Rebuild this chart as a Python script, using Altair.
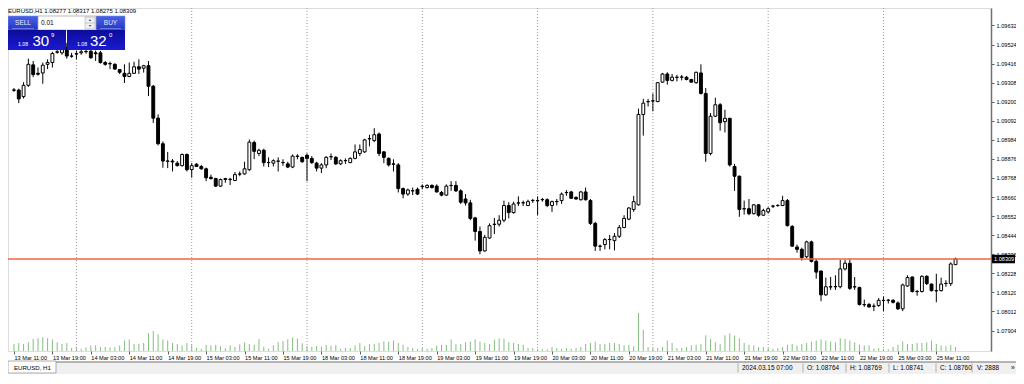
import altair as alt
import pandas as pd

symbol = "EURUSD,H1"
tab_label = "EURUSD, H1"

opens = [
    1.09267, 1.09266, 1.09229, 1.09293, 1.09409, 1.09361, 1.09363, 1.09412, 1.09422, 1.09480,
    1.09477, 1.09510, 1.09459, 1.09472, 1.09477, 1.09483, 1.09486, 1.09477, 1.09477, 1.09422,
    1.09416, 1.09412, 1.09382, 1.09361, 1.09343, 1.09361, 1.09398, 1.09390, 1.09404, 1.09288,
    1.09107, 1.08962, 1.08864, 1.08864, 1.08852, 1.08838, 1.08901, 1.08816, 1.08846, 1.08833,
    1.08820, 1.08772, 1.08765, 1.08722, 1.08764, 1.08759, 1.08754, 1.08791, 1.08791, 1.08815,
    1.08969, 1.08907, 1.08925, 1.08855, 1.08852, 1.08864, 1.08855, 1.08848, 1.08830, 1.08892,
    1.08885, 1.08897, 1.08879, 1.08852, 1.08824, 1.08842, 1.08888, 1.08885, 1.08848, 1.08866,
    1.08855, 1.08879, 1.08907, 1.08916, 1.08990, 1.08980, 1.09017, 1.08916, 1.08879, 1.08848,
    1.08842, 1.08708, 1.08677, 1.08695, 1.08704, 1.08719, 1.08714, 1.08726, 1.08722, 1.08686,
    1.08671, 1.08726, 1.08726, 1.08695, 1.08649, 1.08627, 1.08542, 1.08465, 1.08355, 1.08428,
    1.08506, 1.08506, 1.08529, 1.08612, 1.08572, 1.08627, 1.08627, 1.08612, 1.08640, 1.08640,
    1.08645, 1.08645, 1.08612, 1.08634, 1.08640, 1.08686, 1.08689, 1.08658, 1.08645, 1.08689,
    1.08640, 1.08511, 1.08382, 1.08391, 1.08419, 1.08413, 1.08438, 1.08487, 1.08535, 1.08590,
    1.08616, 1.09128, 1.09201, 1.09205, 1.09201, 1.09311, 1.09357, 1.09321, 1.09339, 1.09339,
    1.09339, 1.09326, 1.09308, 1.09363, 1.09247, 1.08907, 1.09118, 1.09183, 1.09087, 1.09106,
    1.08833, 1.08778, 1.08594, 1.08594, 1.08566, 1.08616, 1.08557, 1.08576, 1.08609, 1.08612,
    1.08612, 1.08640, 1.08493, 1.08377, 1.08364, 1.08322, 1.08406, 1.08296, 1.08241, 1.08106,
    1.08152, 1.08152, 1.08152, 1.08253, 1.08285, 1.08152, 1.08148, 1.08051, 1.08051, 1.08042,
    1.08046, 1.08075, 1.08075, 1.08075, 1.08060, 1.08027, 1.08156, 1.08207, 1.08125, 1.08125,
    1.08211, 1.08167, 1.08130, 1.08130, 1.08170, 1.08170, 1.08277,
]

highs = [
    1.09278, 1.09274, 1.09311, 1.09444, 1.09431, 1.09394, 1.09422, 1.09440, 1.09483, 1.09494,
    1.09532, 1.09532, 1.09477, 1.09488, 1.09499, 1.09505, 1.09505, 1.09490, 1.09488, 1.09431,
    1.09427, 1.09418, 1.09385, 1.09412, 1.09422, 1.09427, 1.09440, 1.09409, 1.09431, 1.09295,
    1.09128, 1.08975, 1.08916, 1.08875, 1.08864, 1.08907, 1.08907, 1.08853, 1.08852, 1.08842,
    1.08827, 1.08787, 1.08769, 1.08765, 1.08769, 1.08769, 1.08802, 1.08805, 1.08860, 1.08986,
    1.08980, 1.08934, 1.08934, 1.08885, 1.08874, 1.08885, 1.08874, 1.08860, 1.08901, 1.08903,
    1.08888, 1.08907, 1.08892, 1.08860, 1.08852, 1.08892, 1.08907, 1.08892, 1.08874, 1.08879,
    1.08885, 1.08958, 1.08958, 1.08990, 1.09013, 1.09050, 1.09026, 1.08921, 1.08885, 1.08874,
    1.08852, 1.08714, 1.08708, 1.08714, 1.08714, 1.08732, 1.08732, 1.08732, 1.08732, 1.08695,
    1.08732, 1.08750, 1.08750, 1.08704, 1.08677, 1.08644, 1.08548, 1.08493, 1.08446, 1.08511,
    1.08542, 1.08557, 1.08640, 1.08631, 1.08634, 1.08664, 1.08640, 1.08645, 1.08649, 1.08664,
    1.08655, 1.08653, 1.08640, 1.08649, 1.08686, 1.08699, 1.08695, 1.08664, 1.08695, 1.08714,
    1.08649, 1.08520, 1.08391, 1.08428, 1.08446, 1.08456, 1.08502, 1.08557, 1.08603, 1.08667,
    1.09161, 1.09216, 1.09216, 1.09247, 1.09311, 1.09363, 1.09367, 1.09357, 1.09352, 1.09352,
    1.09345, 1.09330, 1.09370, 1.09412, 1.09278, 1.09136, 1.09223, 1.09192, 1.09155, 1.09109,
    1.08848, 1.08782, 1.08640, 1.08649, 1.08621, 1.08621, 1.08594, 1.08603, 1.08616, 1.08619,
    1.08667, 1.08649, 1.08502, 1.08391, 1.08373, 1.08413, 1.08413, 1.08308, 1.08244, 1.08204,
    1.08207, 1.08217, 1.08303, 1.08303, 1.08308, 1.08207, 1.08152, 1.08079, 1.08060, 1.08057,
    1.08088, 1.08097, 1.08082, 1.08082, 1.08069, 1.08170, 1.08217, 1.08211, 1.08134, 1.08217,
    1.08217, 1.08170, 1.08226, 1.08204, 1.08189, 1.08290, 1.08317,
]

lows = [
    1.09256, 1.09192, 1.09218, 1.09284, 1.09339, 1.09348, 1.09302, 1.09385, 1.09394, 1.09472,
    1.09466, 1.09444, 1.09449, 1.09440, 1.09466, 1.09472, 1.09444, 1.09431, 1.09416, 1.09404,
    1.09385, 1.09382, 1.09357, 1.09306, 1.09339, 1.09357, 1.09357, 1.09365, 1.09232, 1.09080,
    1.08953, 1.08826, 1.08824, 1.08805, 1.08833, 1.08833, 1.08805, 1.08770, 1.08830, 1.08815,
    1.08750, 1.08759, 1.08717, 1.08717, 1.08741, 1.08728, 1.08750, 1.08778, 1.08787, 1.08809,
    1.08875, 1.08892, 1.08833, 1.08830, 1.08833, 1.08805, 1.08837, 1.08824, 1.08824, 1.08874,
    1.08855, 1.08750, 1.08848, 1.08805, 1.08796, 1.08824, 1.08870, 1.08842, 1.08842, 1.08848,
    1.08852, 1.08874, 1.08892, 1.08910, 1.08947, 1.08971, 1.08892, 1.08852, 1.08833, 1.08805,
    1.08686, 1.08653, 1.08667, 1.08671, 1.08671, 1.08704, 1.08708, 1.08708, 1.08686, 1.08664,
    1.08667, 1.08695, 1.08689, 1.08621, 1.08612, 1.08529, 1.08413, 1.08336, 1.08351, 1.08424,
    1.08450, 1.08493, 1.08517, 1.08539, 1.08566, 1.08609, 1.08609, 1.08609, 1.08627, 1.08557,
    1.08634, 1.08603, 1.08576, 1.08612, 1.08621, 1.08667, 1.08649, 1.08645, 1.08640, 1.08640,
    1.08502, 1.08355, 1.08355, 1.08364, 1.08364, 1.08358, 1.08428, 1.08484, 1.08529, 1.08576,
    1.08612, 1.09008, 1.09173, 1.09146, 1.09197, 1.09308, 1.09297, 1.09315, 1.09315, 1.09321,
    1.09321, 1.09308, 1.09302, 1.09241, 1.08860, 1.08897, 1.09113, 1.09036, 1.09026, 1.08833,
    1.08695, 1.08548, 1.08561, 1.08557, 1.08561, 1.08548, 1.08554, 1.08566, 1.08598, 1.08605,
    1.08609, 1.08493, 1.08377, 1.08345, 1.08300, 1.08314, 1.08290, 1.08198, 1.08070, 1.08101,
    1.08134, 1.08134, 1.08143, 1.08244, 1.08134, 1.08134, 1.08046, 1.08038, 1.08032, 1.08014,
    1.08038, 1.08014, 1.08057, 1.08057, 1.08020, 1.08014, 1.08152, 1.08119, 1.08101, 1.08119,
    1.08162, 1.08125, 1.08064, 1.08125, 1.08152, 1.08156, 1.08275,
]

closes = [
    1.09265, 1.09216, 1.09293, 1.09412, 1.09354, 1.09356, 1.09407, 1.09422, 1.09473, 1.09483,
    1.09510, 1.09459, 1.09458, 1.09470, 1.09483, 1.09485, 1.09449, 1.09472, 1.09422, 1.09412,
    1.09415, 1.09385, 1.09367, 1.09343, 1.09361, 1.09398, 1.09385, 1.09404, 1.09288, 1.09107,
    1.08962, 1.08864, 1.08863, 1.08859, 1.08838, 1.08901, 1.08815, 1.08838, 1.08833, 1.08820,
    1.08769, 1.08765, 1.08722, 1.08759, 1.08760, 1.08761, 1.08787, 1.08790, 1.08820, 1.08971,
    1.08919, 1.08925, 1.08855, 1.08856, 1.08866, 1.08863, 1.08856, 1.08830, 1.08892, 1.08890,
    1.08860, 1.08879, 1.08855, 1.08824, 1.08842, 1.08885, 1.08889, 1.08848, 1.08866, 1.08867,
    1.08879, 1.08916, 1.08929, 1.08984, 1.08991, 1.09013, 1.08907, 1.08885, 1.08842, 1.08846,
    1.08708, 1.08677, 1.08700, 1.08696, 1.08677, 1.08721, 1.08726, 1.08714, 1.08689, 1.08671,
    1.08722, 1.08725, 1.08695, 1.08631, 1.08627, 1.08539, 1.08465, 1.08355, 1.08432, 1.08498,
    1.08505, 1.08529, 1.08612, 1.08572, 1.08621, 1.08626, 1.08628, 1.08634, 1.08641, 1.08639,
    1.08646, 1.08612, 1.08634, 1.08635, 1.08677, 1.08685, 1.08653, 1.08649, 1.08689, 1.08645,
    1.08511, 1.08382, 1.08381, 1.08419, 1.08420, 1.08438, 1.08487, 1.08539, 1.08598, 1.08634,
    1.09128, 1.09192, 1.09200, 1.09204, 1.09308, 1.09357, 1.09321, 1.09339, 1.09338, 1.09340,
    1.09326, 1.09311, 1.09367, 1.09247, 1.08907, 1.09118, 1.09183, 1.09081, 1.09106, 1.08842,
    1.08778, 1.08590, 1.08593, 1.08566, 1.08616, 1.08557, 1.08584, 1.08594, 1.08608, 1.08613,
    1.08640, 1.08498, 1.08382, 1.08364, 1.08318, 1.08406, 1.08296, 1.08235, 1.08106, 1.08152,
    1.08151, 1.08153, 1.08253, 1.08285, 1.08143, 1.08151, 1.08051, 1.08050, 1.08038, 1.08041,
    1.08075, 1.08074, 1.08076, 1.08064, 1.08027, 1.08162, 1.08204, 1.08125, 1.08124, 1.08211,
    1.08170, 1.08130, 1.08129, 1.08167, 1.08171, 1.08281, 1.08309,
]

volumes = [
    7100, 8300, 7300, 9000, 12300, 13100, 14200, 13000, 11700, 9000,
    7300, 8300, 3100, 4000, 2300, 3700, 5700, 5800, 4300, 4000,
    3700, 3800, 5700, 10700, 11700, 7300, 7400, 8300, 18200, 20400,
    17100, 11800, 10700, 8300, 7300, 5700, 8300, 6100, 3000, 2300,
    6300, 5700, 6300, 5000, 2888, 5700, 4000, 7000, 8700, 7300,
    6300, 12300, 4300, 2300, 6000, 9100, 10200, 12100, 13900, 12800,
    7900, 4800, 4100, 5200, 4700, 6100, 5300, 6200, 2300, 3000,
    3100, 5700, 8300, 5000, 7300, 7400, 8300, 9700, 9600, 10700,
    8300, 6300, 4000, 3000, 2300, 3100, 2300, 3000, 5700, 6300,
    6400, 11700, 7300, 7200, 9000, 9700, 11700, 9800, 8300, 7300,
    11600, 12700, 12600, 9000, 8300, 7300, 6300, 3100, 3000, 2000,
    1700, 1800, 4000, 3000, 2300, 3100, 2300, 3000, 4000, 7300,
    8300, 9700, 7300, 7400, 8300, 8200, 7300, 5700, 6300, 5000,
    38900, 21900, 4100, 3000, 3100, 4000, 10700, 8300, 3000, 3100,
    4000, 5700, 6300, 7300, 16200, 12300, 9000, 7300, 16100, 18300,
    16000, 13100, 8300, 6300, 5700, 4000, 4100, 3000, 2300, 3100,
    4000, 6300, 7300, 5700, 7300, 8300, 9700, 10700, 11700, 10700,
    9700, 9000, 13100, 12300, 10700, 9000, 6300, 5700, 5800, 2300,
    3000, 2000, 1700, 4000, 6300, 9700, 7300, 7300, 8300, 8300,
    9000, 10700, 7300, 5700, 5000, 6300, 4000,
]

time_labels = [
    "13 Mar 11:00", "13 Mar 19:00", "14 Mar 03:00", "14 Mar 11:00", "14 Mar 19:00",
    "15 Mar 03:00", "15 Mar 11:00", "15 Mar 19:00", "18 Mar 03:00", "18 Mar 11:00",
    "18 Mar 19:00", "19 Mar 03:00", "19 Mar 11:00", "19 Mar 19:00", "20 Mar 03:00",
    "20 Mar 11:00", "20 Mar 19:00", "21 Mar 03:00", "21 Mar 11:00", "21 Mar 19:00",
    "22 Mar 03:00", "22 Mar 11:00", "22 Mar 19:00", "25 Mar 03:00", "25 Mar 11:00",
]
label_step = 8
day_breaks = [13, 37, 61, 85, 109, 133, 157, 181]

price_ticks = [
    "1.09632", "1.09524", "1.09416", "1.09308", "1.09200", "1.09092", "1.08984", "1.08876",
    "1.08768", "1.08660", "1.08552", "1.08444", "1.08336", "1.08228", "1.08120", "1.08012", "1.07904",
]

bid_price = 1.08309
ask_price = 1.08320
lot_size = "0.01"
status_time = "2024.03.15 07:00"
status_bar_index = 44

# ---------------------------------------------------------------- layout
W, H = 983, 343
PAD_R, PAD_B = 25, 23
TOTAL_W = W + PAD_R
FONT = "Liberation Sans"
x_domain = [-0.2, 202.34]
y_domain = [1.07788, 1.09731]

n = len(opens)
assert len(highs) == n and len(lows) == n and len(closes) == n and len(volumes) == n, (
    len(opens), len(highs), len(lows), len(closes), len(volumes))

df = pd.DataFrame({"i": list(range(n)), "o": opens, "h": highs, "l": lows,
                   "c": closes, "vol": volumes})
df["top"] = df[["o", "c"]].max(axis=1)
df["bot"] = df[["o", "c"]].min(axis=1)
df["xa"] = df["i"] - 0.3
df["xb"] = df["i"] + 0.3

xscale = alt.Scale(domain=x_domain, nice=False, zero=False)
yscale = alt.Scale(domain=y_domain, nice=False, zero=False)

labels_js = "[" + ",".join("'" + s + "'" for s in time_labels) + "]"


def xax():
    return alt.Axis(values=[k * label_step for k in range(len(time_labels))],
                    labelExpr=labels_js + "[round(datum.value/" + str(label_step) + ")]",
                    labelAlign="left", labelBaseline="top", labelPadding=1,
                    labelFontSize=5.6, labelFont=FONT, labelColor="#000000",
                    tickSize=3, tickColor="#606060", domain=False, grid=False,
                    title=None, labelOverlap=False, labelFlush=False, labelBound=False)


def yax():
    return alt.Axis(orient="right", values=[float(v) for v in price_ticks], format=".5f",
                    labelFontSize=5.6, labelFont=FONT, labelColor="#000000",
                    tickSize=3, tickColor="#606060", domainColor="#707070", domainWidth=1.5,
                    grid=False, title=None, labelPadding=2, labelOverlap=False,
                    labelFlush=False, labelBound=False)


def X(field):
    return alt.X(field, scale=xscale, axis=xax())


def Y(field):
    return alt.Y(field, scale=yscale, axis=yax())


one = pd.DataFrame({"k": [0]})


def box(x1, x2, y1, y2, fill, stroke=None, sw=1.0):
    kw = {"fill": fill}
    if stroke is not None:
        kw["stroke"] = stroke
        kw["strokeWidth"] = sw
    return alt.Chart(one).mark_rect(**kw).encode(
        x=alt.value(x1), x2=alt.value(x2), y=alt.value(y1), y2=alt.value(y2))


def line(x1, x2, y1, y2, color, sw=1.0):
    return alt.Chart(one).mark_rule(color=color, strokeWidth=sw).encode(
        x=alt.value(x1), x2=alt.value(x2), y=alt.value(y1), y2=alt.value(y2))


def txt(x, y, s, size=6, color="#000000", align="left", baseline="middle", weight="normal"):
    return alt.Chart(one).mark_text(text=s, fontSize=size, color=color, align=align,
                                    baseline=baseline, font=FONT, fontWeight=weight).encode(
        x=alt.value(x), y=alt.value(y))


# ---------------------------------------------------------------- data layers
volume = alt.Chart(df).mark_bar(size=1, color="#86bf80").encode(
    x=X("i:Q"),
    y=alt.Y("vol:Q", scale=alt.Scale(domain=[0, 352000], nice=False), axis=None),
)

grid = alt.Chart(pd.DataFrame({"d": day_breaks})).mark_rule(
    color="#9a9a9a", strokeDash=[1, 2], strokeWidth=1).encode(
    x=X("d:Q"), y=alt.value(0), y2=alt.value(H))

wicks = alt.Chart(df).mark_rule(color="#000000", strokeWidth=1).encode(
    x=X("i:Q"), y=Y("l:Q"), y2="h:Q")

bodies = alt.Chart(df).mark_rect(stroke="#000000", strokeWidth=1).encode(
    x=X("xa:Q"), x2="xb:Q", y=Y("bot:Q"), y2="top:Q",
    fill=alt.condition("datum.c > datum.o", alt.value("#ffffff"), alt.value("#000000")),
)

pdf = pd.DataFrame({"p": [bid_price], "lab": [f"{bid_price:.5f}"]})
pdf["phi"] = pdf["p"] + 0.00024
pdf["plo"] = pdf["p"] - 0.00024
pline = alt.Chart(pdf).mark_rule(color="#f0643f", strokeWidth=1.4).encode(y=Y("p:Q"))
pbox = alt.Chart(pdf).mark_rect(color="#000000").encode(
    x=alt.value(W + 1), x2=alt.value(W + 24), y=Y("phi:Q"), y2="plo:Q")
ptext = alt.Chart(pdf).mark_text(color="#ffffff", fontSize=5.6, font=FONT, align="left",
                                 baseline="middle").encode(
    x=alt.value(W + 3), y=Y("p:Q"), text="lab:N")

# ---------------------------------------------------------------- chrome
header = txt(0, 3, f"{symbol}  {opens[-1]:.5f} {highs[-1]:.5f} {lows[-1]:.5f} {closes[-1]:.5f}",
             size=6)

btn_grad = alt.Gradient(gradient="linear",
                        stops=[alt.GradientStop(color="#4a63e4", offset=0),
                               alt.GradientStop(color="#2434c4", offset=1)],
                        x1=0, x2=0, y1=0, y2=1)
deep_grad = alt.Gradient(gradient="linear",
                         stops=[alt.GradientStop(color="#0c0c9c", offset=0),
                                alt.GradientStop(color="#1a1ad0", offset=1)],
                         x1=0, x2=0, y1=0, y2=1)

bid_s = f"{bid_price:.5f}"
ask_s = f"{ask_price:.5f}"

T0, T1, T2 = 8, 22, 42
panel = [
    box(0, 30, T0, T1, btn_grad, "#7f8fe8", 0.6),
    box(88, 117, T0, T1, btn_grad, "#7f8fe8", 0.6),
    box(30, 88, T0, T1, "#ffffff", "#8a8a8a", 0.6),
    box(77, 87, T0 + 1, T1 - 1, "#f0f0f0", "#a0a0a0", 0.5),
    line(77, 87, (T0 + T1) / 2, (T0 + T1) / 2, "#a0a0a0", 0.5),
    txt(82, T0 + 3.8, "▲", size=3.5, color="#404040", align="center"),
    txt(82, T1 - 3.6, "▼", size=3.5, color="#404040", align="center"),
    box(0, 58, T1, T2, deep_grad),
    box(59, 117, T1, T2, deep_grad),
    line(4, 26, T1 - 1.5, T1 - 1.5, "#8fa0f0", 0.6),
    line(92, 113, T1 - 1.5, T1 - 1.5, "#8fa0f0", 0.6),
    txt(15, T0 + 6.5, "SELL", size=6.5, color="#e8ecff", align="center"),
    txt(102.5, T0 + 6.5, "BUY", size=6.5, color="#e8ecff", align="center"),
    txt(33, T0 + 7, lot_size, size=6.5, color="#000000"),
    txt(10, T2 - 4.5, bid_s[:4], size=5.2, color="#ffffff", baseline="alphabetic"),
    txt(24.5, T2 - 4, bid_s[4:6], size=15, color="#ffffff", baseline="alphabetic"),
    txt(43, T1 + 7, bid_s[6:], size=6, color="#ffffff", baseline="alphabetic"),
    txt(69, T2 - 4.5, ask_s[:4], size=5.2, color="#ffffff", baseline="alphabetic"),
    txt(82, T2 - 4, ask_s[4:6], size=15, color="#ffffff", baseline="alphabetic"),
    txt(101, T1 + 7, ask_s[6:], size=6, color="#ffffff", baseline="alphabetic"),
]

sb = status_bar_index
status_items = [
    (734, status_time),
    (799, f"O: {opens[sb]:.5f}"),
    (842, f"H: {highs[sb]:.5f}"),
    (885, f"L: {lows[sb]:.5f}"),
    (932, f"C: {closes[sb]:.5f}"),
    (969, f"V: {volumes[sb]}"),
]
separators = [730, 795, 838, 881, 928, 964]

SB_TOP = H + 11
SB_MID = SB_TOP + 6
status = [
    box(0, TOTAL_W, SB_TOP, H + PAD_B, "#f0f0f0"),
    line(0, TOTAL_W, SB_TOP, SB_TOP, "#707070", 1),
    box(0, 48, SB_TOP - 1, H + PAD_B - 1, "#ffffff", "#9a9a9a", 0.8),
    txt(6, SB_MID, tab_label, size=6.1),
    txt(TOTAL_W - 5, SB_MID, "»", size=6.5),
]
for sx in separators:
    status.append(line(sx, sx, SB_TOP + 1.5, H + PAD_B - 1.5, "#b0b0b0", 1))
for sx, s in status_items:
    status.append(txt(sx, SB_MID, s, size=6.5))

price_group = alt.layer(grid, wicks, bodies, pline, pbox, ptext, header, *panel, *status)

chart = alt.layer(volume, price_group).resolve_scale(y="independent").properties(
    width=W, height=H,
    autosize=alt.AutoSizeParams(type="none"),
    padding={"left": 0, "top": 0, "right": PAD_R, "bottom": PAD_B},
).configure_view(stroke="#707070", strokeWidth=1).configure(background="#ffffff")

chart.save("out.html", embed_options={"renderer": "svg", "actions": False})
